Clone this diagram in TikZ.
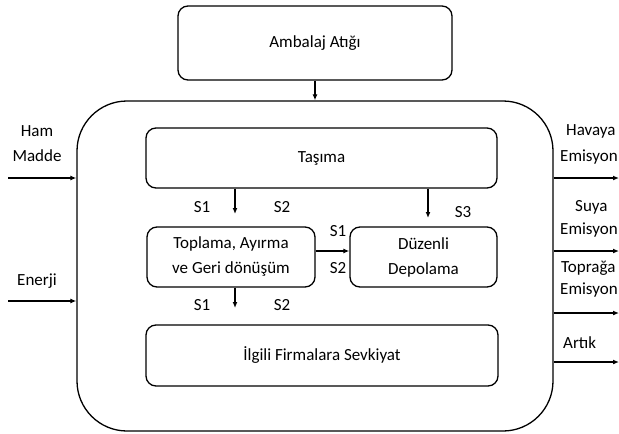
\documentclass[tikz,border=0pt]{standalone}
\usepackage{fontspec}
\setmainfont{Carlito}
\usetikzlibrary{arrows.meta}
\begin{document}
\begin{tikzpicture}[x=1pt,y=-1pt,
  font=\fontsize{17}{25}\selectfont,
  box/.style={draw,line width=1.3pt,rounded corners=10pt,align=center,inner sep=0pt},
  arr/.style={line width=1.2pt,-{Latex[length=6pt,width=5pt]}},
  lbl/.style={inner sep=0pt,align=center},
  rl/.style={inner sep=0pt,anchor=west}]
\useasboundingbox (0,0) rectangle (619,434);
\node[box,minimum width=274pt,minimum height=74pt] (amb) at (315,43) {Ambalaj Atığı};
\node[draw,line width=1.3pt,rounded corners=50pt,minimum width=476pt,minimum height=330pt,inner sep=0pt] (big) at (315,266) {};
\node[box,minimum width=351pt,minimum height=60pt] (tas) at (321.5,158) {Taşıma};
\node[box,minimum width=168pt,minimum height=60pt] (top) at (231,257) {Toplama, Ayırma\\ve Geri dönüşüm};
\node[box,minimum width=147pt,minimum height=60pt] (duz) at (423.5,257) {Düzenli\\Depolama};
\node[box,minimum width=352pt,minimum height=61pt] (ilg) at (322,355.5) {İlgili Firmalara Sevkiyat};
% internal arrows
\coordinate (a1) at (235,214);
\coordinate (a3) at (428,218);
\coordinate (a4) at (235,308);
\draw[arr] (a1 |- tas.south) -- (a1);
\draw[arr] (a3 |- tas.south) -- (a3);
\draw[arr] (top.east |- 0,251) -- (duz.west |- 0,251);
\draw[arr] (a4 |- top.south) -- (a4);
\node[lbl] (s1a) at (202,207) {S1};
\node[lbl] (s2a) at (282,207) {S2};
\node[lbl] (s3) at (463,212) {S3};
\node[lbl] (s1b) at (338,231) {S1};
\node[lbl] (s2b) at (338,268) {S2};
\node[lbl] (s1c) at (202,305) {S1};
\node[lbl] (s2c) at (282,305) {S2};
% top arrow
\draw[arr] (amb.south) -- (big.north -| amb.south);
% left inputs
\coordinate (in1) at (8,178);
\coordinate (in2) at (8,301);
\draw[arr] (in1) -- (in1 -| big.west);
\draw[arr] (in2) -- (in2 -| big.west);
\node[lbl] (ham) at (37,144) {Ham\\Madde};
\node[lbl] (ene) at (37,281) {Enerji};
% right outputs
\coordinate (o1) at (619,178);
\coordinate (o2) at (619,251);
\coordinate (o3) at (619,313);
\coordinate (o4) at (619,362);
\draw[arr] (o1 -| big.east) -- (o1);
\draw[arr] (o2 -| big.east) -- (o2);
\draw[arr] (o3 -| big.east) -- (o3);
\draw[arr] (o4 -| big.east) -- (o4);
\node[rl] (t1a) at (566,131) {Havaya};
\node[rl] (t1b) at (560,157) {Emisyon};
\node[rl] (t2a) at (575,207) {Suya};
\node[rl] (t2b) at (560,230) {Emisyon};
\node[rl] (t3a) at (561,268) {Toprağa};
\node[rl] (t3b) at (560,290) {Emisyon};
\node[rl] (t4) at (563,343) {Artık};
\end{tikzpicture}
\end{document}
